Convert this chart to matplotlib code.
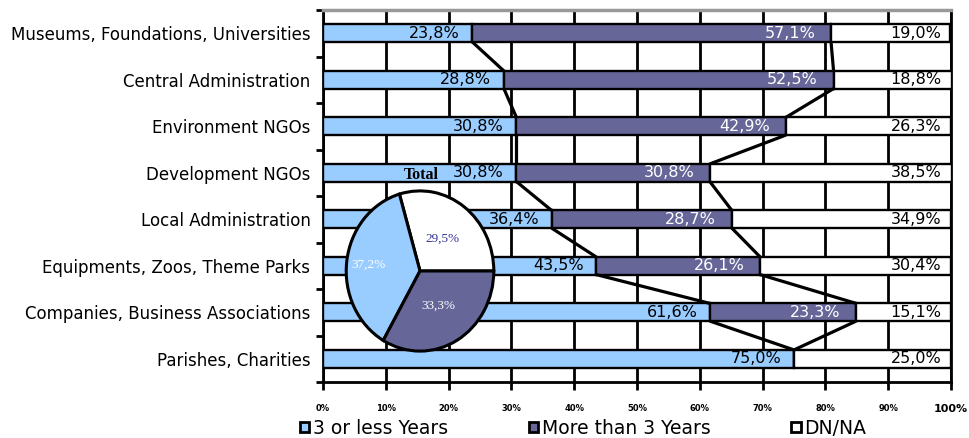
import numpy as np
import matplotlib
matplotlib.use("Agg")
from matplotlib import pyplot as plt
from matplotlib.patches import Patch

categories = ["Museums, Foundations, Universities", "Central Administration",
              "Environment NGOs", "Development NGOs", "Local Administration",
              "Equipments, Zoos, Theme Parks", "Companies, Business Associations",
              "Parishes, Charities"]
short = [23.8, 28.8, 30.8, 30.8, 36.4, 43.5, 61.6, 75.0]
longer = [57.1, 52.5, 42.9, 30.8, 28.7, 26.1, 23.3, 0.0]
dnna = [19.0, 18.8, 26.3, 38.5, 34.9, 30.4, 15.1, 25.0]
series = ["3 or less Years", "More than 3 Years", "DN/NA"]

# pie "Total": order as drawn, counter-clockwise from 3 o'clock
total_vals = [29.5, 37.2, 33.3]
xticks = np.arange(0, 101, 10)

light = "#99CCFF"
dark = "#666699"


def pct(v):
    return ("%.1f%%" % v).replace(".", ",")


fig = plt.figure(figsize=(9.7, 4.38), dpi=100)
ax = fig.add_axes([323/970, 1-382/438, 628/970, 372/438])

y = np.arange(len(categories))
h = 0.38
short = np.array(short)
longer = np.array(longer)
dnna = np.array(dnna)
cum2 = short + longer

ax.barh(y, short, h, color=light, edgecolor="black", linewidth=1.7, zorder=3)
ax.barh(y, longer, h, left=short, color=dark, edgecolor="black", linewidth=1.7, zorder=3)
ax.barh(y, dnna, h, left=cum2, color="white", edgecolor="black", linewidth=1.7, zorder=3)

# series lines between bars
for cum in (short, cum2):
    for i in range(len(y) - 1):
        ax.plot([cum[i], cum[i+1]], [y[i] + h/2, y[i+1] - h/2],
                color="black", lw=2.3, zorder=4, solid_capstyle="butt")

for i in range(len(y)):
    ax.text(short[i] - 2, y[i], pct(short[i]), ha="right", va="center",
            fontsize=11.5, color="black", zorder=5)
    if longer[i] > 0:
        ax.text(cum2[i] - 2.5, y[i], pct(longer[i]), ha="right", va="center",
                fontsize=11.5, color="white", zorder=5)
    ax.text(98.5, y[i], pct(dnna[i]), ha="right", va="center",
            fontsize=11.5, color="black", zorder=5)

ax.set_xlim(0, 100)
ax.set_ylim(len(y) - 0.5, -0.5)
ax.set_yticks(y)
ax.set_yticklabels(categories, fontsize=12)
ax.set_yticks(np.arange(-0.5, len(y), 1), minor=True)
ax.tick_params(axis="y", which="major", length=0, pad=9)
ax.tick_params(axis="y", which="minor", length=5, width=2, direction="out")

ax.set_xticks(xticks)
ax.set_xticklabels(["%d%%" % t for t in xticks])
ax.tick_params(axis="x", length=6, width=2, direction="out", pad=10)
for lab in ax.get_xticklabels():
    lab.set_fontweight("bold")
    lab.set_fontsize(6)
ax.get_xticklabels()[-1].set_fontsize(8)

ax.xaxis.grid(True, color="black", lw=2)
ax.set_axisbelow(True)
for s in ("left", "right", "bottom"):
    ax.spines[s].set_linewidth(2)
    ax.spines[s].set_color("black")
ax.spines["top"].set_linewidth(2.5)
ax.spines["top"].set_color("#999999")

# pie inset
pax = fig.add_axes([344/970, 1-353.5/438, 152/970, 165/438])
pax.pie(total_vals, colors=["white", light, dark], startangle=0, counterclock=True,
        wedgeprops=dict(edgecolor="black", linewidth=2.2))
pax.set_aspect("auto")
pax.set_xlim(-1.03, 1.03)
pax.set_ylim(-1.03, 1.03)
start = 0
dists = [0.5, 0.7, 0.5]
tcolors = ["#333399", "white", "white"]
for v, d, c in zip(total_vals, dists, tcolors):
    a = np.deg2rad((start + v/2) * 3.6)
    pax.text(d*np.cos(a), d*np.sin(a), pct(v), ha="center", va="center",
             fontsize=9.5, color=c, family="Liberation Serif")
    start += v

fig.text(421/970, 1-175/438, "Total", family="Liberation Serif", fontweight="bold",
         fontsize=11.5, ha="center", va="center")

handles = [Patch(facecolor=c, edgecolor="black", linewidth=2) for c in (light, dark, "white")]
fig.legend(handles, series, loc="center left", bbox_to_anchor=(300/970, 1-428/438),
           ncol=3, frameon=False, fontsize=13.5, handlelength=0.5, handleheight=0.5,
           handletextpad=0.2, columnspacing=4.3, borderpad=0, borderaxespad=0)

fig.savefig("out.png", dpi=100)
